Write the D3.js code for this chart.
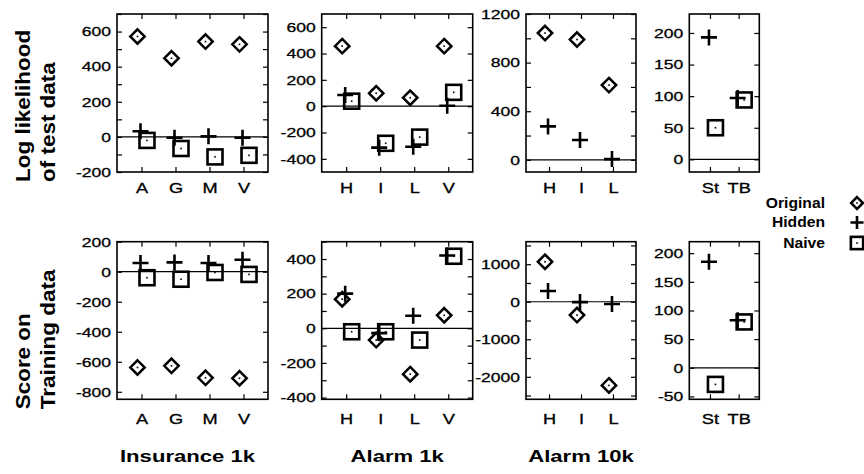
<!DOCTYPE html>
<html lang="en">
<head>
<meta charset="UTF-8">
<title>Original vs Hidden vs Naive</title>
<style>
  body { margin: 0; padding: 0; background: #fff; }
  text { font-family: "Liberation Sans", Arial, sans-serif; fill: #000; }
  .tick text { stroke: #000; stroke-width: 0.3px; }
</style>
</head>
<body>
<svg width="864" height="474"></svg>
<script src="https://d3js.org/d3.v7.min.js"></script>
<script>
// ---- data ----
const insCats = ["A", "G", "M", "V"];
const alarmCats = ["H", "I", "L", "V"];
const alarm10Cats = ["H", "I", "L"];
const treeCats = ["St", "TB"];

// log likelihood of test data (top row)
const insLLOriginal = [572, 448, 543, 527];
const insLLHidden = [32, -5, 3, -5];
const insLLNaive = [-20, -66, -114, -105];
const a1LLOriginal = [456, 98, 64, 456];
const a1LLHidden = [85, -315, -308, 3];
const a1LLNaive = [38, -282, -235, 105];
const a10LLOriginal = [1043, 990, 615];
const a10LLHidden = [275, 163, 6];
const trLLHidden = [193, 97];
const trLLNaive = [50, 94];

// score on training data (bottom row)
const insScOriginal = [-638, -627, -707, -710];
const insScHidden = [58, 62, 58, 80];
const insScNaive = [-40, -50, -5, -18];
const a1ScOriginal = [168, -68, -265, 75];
const a1ScHidden = [200, -28, 72, 420];
const a1ScNaive = [-20, -20, -68, 416];
const a10ScOriginal = [1065, -355, -2230];
const a10ScHidden = [285, -10, -60];
const trScHidden = [185, 83];
const trScNaive = [-29, 80];

const colLabels = ["Insurance 1k", "Alarm 1k", "Alarm 10k"];
const rowTitles = [["Log likelihood", "of test data"], ["Score on", "Training data"]];
const legendNames = ["Original", "Hidden", "Naive"];

// ---- layout ----
const cols = [{x: 117, w: 151}, {x: 321.7, w: 151}, {x: 526, w: 110}, {x: 689.3, w: 70}];
const rows = [{y: 14, h: 158, labDy: 21}, {y: 241.7, h: 157.6, labDy: 24.5}];
const STRETCH = 1.3;   // the original font is wide

const panels = [
  // top row
  {row: 0, col: 0, cats: insCats, dom: [-200, 700], major: 200, minor: 100,
   series: {Original: insLLOriginal, Hidden: insLLHidden, Naive: insLLNaive}},
  {row: 0, col: 1, cats: alarmCats, dom: [-500, 700], major: 200, minor: 200,
   series: {Original: a1LLOriginal, Hidden: a1LLHidden, Naive: a1LLNaive}},
  {row: 0, col: 2, cats: alarm10Cats, dom: [-100, 1200], major: 400, minor: 200,
   series: {Original: a10LLOriginal, Hidden: a10LLHidden}},
  {row: 0, col: 3, cats: treeCats, dom: [-20, 230], major: 50, minor: 50,
   series: {Hidden: trLLHidden, Naive: trLLNaive}},
  // bottom row
  {row: 1, col: 0, cats: insCats, dom: [-850, 200], major: 200, minor: 200,
   series: {Original: insScOriginal, Hidden: insScHidden, Naive: insScNaive}},
  {row: 1, col: 1, cats: alarmCats, dom: [-410, 500], major: 200, minor: 100,
   series: {Original: a1ScOriginal, Hidden: a1ScHidden, Naive: a1ScNaive}},
  {row: 1, col: 2, cats: alarm10Cats, dom: [-2600, 1600], major: 1000, minor: 500,
   series: {Original: a10ScOriginal, Hidden: a10ScHidden}},
  {row: 1, col: 3, cats: treeCats, dom: [-55, 220], major: 50, minor: 50,
   series: {Hidden: trScHidden, Naive: trScNaive}}
];

const markerShift = {Original: -4, Hidden: -1, Naive: 5.5};

const svg = d3.select("svg");

function drawMarker(g, type, cx, cy, s) {
  s = s || 1;
  const m = g.append("g").attr("transform", `translate(${cx},${cy})`);
  if (type === "Original") {
    const r = 7.2 * s;
    m.append("path").attr("d", `M0,${-r}L${r},0L0,${r}L${-r},0Z`)
      .attr("fill", "none").attr("stroke", "#000").attr("stroke-width", 2.5);
    m.append("rect").attr("x", -0.8).attr("y", -0.8).attr("width", 1.6).attr("height", 1.6);
  } else if (type === "Hidden") {
    const r = 8 * s;
    m.append("path").attr("d", `M${-r},0H${r}M0,${-r}V${r}`)
      .attr("stroke", "#000").attr("stroke-width", 2.6);
  } else {
    const r = 7.5 * s;
    m.append("rect").attr("x", -r).attr("y", -r).attr("width", 2 * r).attr("height", 2 * r)
      .attr("fill", "none").attr("stroke", "#000").attr("stroke-width", 2.6);
    m.append("rect").attr("x", -0.8).attr("y", -0.8).attr("width", 1.6).attr("height", 1.6);
  }
}

function ticksFor(p) {
  const out = [];
  for (let v = Math.ceil(p.dom[0] / p.minor) * p.minor; v <= p.dom[1]; v += p.minor) out.push(v + 0);
  return out;
}

panels.forEach(p => {
  const c = cols[p.col], r = rows[p.row];
  const x = d3.scalePoint().domain(p.cats).range([c.x, c.x + c.w]).padding(0.72);
  const y = d3.scaleLinear().domain(p.dom).range([r.y + r.h, r.y]);
  const g = svg.append("g");
  const tv = ticksFor(p);

  const left = g.append("g").attr("transform", `translate(${c.x},0)`)
    .call(d3.axisLeft(y).tickValues(tv).tickSizeInner(-5).tickSizeOuter(0).tickPadding(6)
      .tickFormat(v => v % p.major === 0 ? String(v) : ""));
  left.selectAll("text").attr("font-size", 13.5).attr("x", -6 / STRETCH)
    .attr("transform", `scale(${STRETCH},1)`);

  g.append("g").attr("transform", `translate(${c.x + c.w},0)`)
    .call(d3.axisRight(y).tickValues(tv).tickSizeInner(-5).tickSizeOuter(0).tickFormat(""));

  g.append("g").attr("transform", `translate(0,${r.y})`)
    .call(d3.axisTop(x).tickSizeInner(-5).tickSizeOuter(0).tickFormat(""));

  const bottom = g.append("g").attr("transform", `translate(0,${r.y + r.h})`)
    .call(d3.axisBottom(x).tickSizeInner(-5).tickSizeOuter(0).tickPadding(r.labDy - 10));
  bottom.selectAll("text").attr("font-size", 14).attr("transform", `scale(${STRETCH},1)`);

  g.selectAll(".domain").remove();
  g.selectAll(".tick line").attr("stroke", "#000").attr("stroke-width", 1.2);

  // zero line
  g.append("line").attr("x1", c.x).attr("x2", c.x + c.w)
    .attr("y1", y(0)).attr("y2", y(0)).attr("stroke", "#000").attr("stroke-width", 1.2);

  // frame
  g.append("rect").attr("x", c.x).attr("y", r.y).attr("width", c.w).attr("height", r.h)
    .attr("fill", "none").attr("stroke", "#000").attr("stroke-width", 1.6);

  // markers
  Object.keys(p.series).forEach(name => {
    p.series[name].forEach((v, i) => {
      drawMarker(g, name, x(p.cats[i]) + markerShift[name], y(v));
    });
  });
});

// row titles
rows.forEach((r, ri) => {
  const startY = r.y + r.h + 10;
  rowTitles[ri].forEach((t, li) => {
    svg.append("text")
      .attr("transform", `translate(${30 + li * 25},${startY}) rotate(-90) scale(1.07,1)`)
      .attr("font-size", 21).attr("font-weight", "bold").attr("text-anchor", "start")
      .text(t);
  });
});

// column labels
colLabels.forEach((t, i) => {
  const c = cols[i];
  svg.append("text")
    .attr("transform", `translate(${c.x + c.w / 2 - (i === 0 ? 5 : 0)},462) scale(${STRETCH},1)`)
    .attr("font-size", 17).attr("font-weight", "bold").attr("text-anchor", "middle")
    .text(t);
});

// legend
const legY = [207.5, 227, 247.5];
legendNames.forEach((n, i) => {
  svg.append("text").attr("transform", `translate(825,${legY[i]}) scale(1.12,1)`)
    .attr("font-size", 14).attr("font-weight", "bold").attr("text-anchor", "end").text(n);
  drawMarker(svg, n, 857, legY[i] - 4.5, 0.82);
});
</script>
</body>
</html>
